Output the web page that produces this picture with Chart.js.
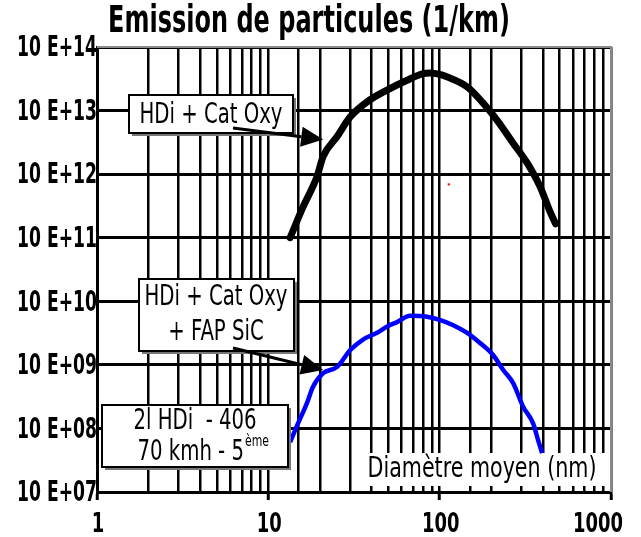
<!DOCTYPE html>
<html>
<head>
<meta charset="utf-8">
<script src="https://cdn.jsdelivr.net/npm/chart.js@4"></script>
<style>
  body { margin: 0; background: #fff; }
  #wrap { width: 641px; height: 537px; }
</style>
</head>
<body>
<div id="wrap"><canvas id="emission" width="641" height="537"></canvas></div>
<script>
// Diamètre moyen (nm) / particules par km
const diam_oxy = [13.4, 15.9, 19.2, 20.9, 25.2, 30, 37.7, 49.3, 64.5, 80, 88, 100, 110, 145, 179, 216, 268, 324, 386, 440, 475];
const part_oxy = [1.0e11, 3.0e11, 9.0e11, 1.9e12, 3.9e12, 7.9e12, 1.37e13, 2.1e13, 3.0e13, 3.8e13, 3.9e13, 3.7e13, 3.4e13, 2.35e13, 1.32e13, 7.1e12, 3.1e12, 1.5e12, 6.3e11, 2.6e11, 1.65e11];

const diam_fap = [13.4, 14.9, 16.8, 18.2, 20.9, 25.2, 30, 35.7, 43.1, 50, 56.4, 67.2, 84.4, 100, 120, 144, 172, 205, 235, 268, 307, 351, 375, 396];
const part_fap = [6.1e7, 1.2e8, 2.5e8, 4.5e8, 7.4e8, 9.3e8, 1.7e9, 2.5e9, 3.2e9, 4.1e9, 4.7e9, 5.9e9, 5.7e9, 5.1e9, 4.2e9, 3.2e9, 2.2e9, 1.43e9, 8.3e8, 5.2e8, 2.2e8, 1.2e8, 6.6e7, 4.1e7];

const stray_x = [113];
const stray_y = [6.9e11];

const x_labels = [1, 10, 100, 1000];
const y_exponents = [7, 8, 9, 10, 11, 12, 13, 14];

const NARROW = "'Liberation Sans Narrow', 'Arial Narrow', 'DejaVu Sans Condensed', 'DejaVu Sans', sans-serif";

function pairs(xs, ys) {
    return xs.map((x, i) => ({ x: x, y: ys[i] }));
}

function isDecade(v) {
    const l = Math.log10(v);
    return Math.abs(l - Math.round(l)) < 1e-6;
}

function yLabel(e) {
    return '10 E+' + (e < 10 ? '0' + e : e);
}

function setFont(ctx, size, bold) {
    ctx.font = (bold ? 'bold ' : '') + size + 'px ' + NARROW;
}

// largeur -> facteur de compression horizontale
function squeeze(ctx, s, size, bold, width) {
    setFont(ctx, size, bold);
    return Math.min(1, width / ctx.measureText(s).width);
}

function text(ctx, s, x, y, size, bold, k, align) {
    ctx.save();
    setFont(ctx, size, bold);
    ctx.textAlign = align || 'center';
    ctx.textBaseline = 'middle';
    ctx.fillStyle = '#000';
    ctx.translate(x, y);
    ctx.scale(k, 1);
    ctx.fillText(s, 0, 0);
    ctx.restore();
}

function box(ctx, x, y, w, h) {
    ctx.save();
    ctx.fillStyle = '#777';
    ctx.fillRect(x + 3, y + 3, w, h);
    ctx.fillStyle = '#fff';
    ctx.fillRect(x, y, w, h);
    ctx.strokeStyle = '#000';
    ctx.lineWidth = 2;
    ctx.strokeRect(x, y, w, h);
    ctx.restore();
}

function arrow(ctx, x1, y1, x2, y2) {
    const a = Math.atan2(y2 - y1, x2 - x1);
    const len = 22, half = 10;
    const bx = x2 - len * Math.cos(a), by = y2 - len * Math.sin(a);
    ctx.save();
    ctx.strokeStyle = '#000';
    ctx.fillStyle = '#000';
    ctx.lineWidth = 3;
    ctx.beginPath();
    ctx.moveTo(x1, y1);
    ctx.lineTo(bx, by);
    ctx.stroke();
    ctx.beginPath();
    ctx.moveTo(x2, y2);
    ctx.lineTo(bx + half * Math.sin(a), by - half * Math.cos(a));
    ctx.lineTo(bx - half * Math.sin(a), by + half * Math.cos(a));
    ctx.closePath();
    ctx.fill();
    ctx.restore();
}

// cadre, titre, graduations et étiquettes
const decor = {
    id: 'decor',
    beforeDatasetsDraw(chart) {
        const ctx = chart.ctx, a = chart.chartArea;
        ctx.save();
        ctx.strokeStyle = '#8a8a8a';
        ctx.lineWidth = 2;
        ctx.beginPath();
        ctx.moveTo(a.left, a.top);
        ctx.lineTo(a.right, a.top);
        ctx.lineTo(a.right, a.bottom);
        ctx.stroke();
        // zone blanche du titre de l'axe X
        ctx.fillStyle = '#fff';
        ctx.fillRect(360, 453, 249, 33);
        ctx.restore();
    },
    afterDatasetsDraw(chart) {
        const ctx = chart.ctx;
        const sx = chart.scales.x, sy = chart.scales.y;

        const ky = squeeze(ctx, yLabel(14), 28, true, 80);
        y_exponents.forEach(e => {
            text(ctx, yLabel(e), 97, sy.getPixelForValue(Math.pow(10, e)) + 2, 28, true, ky, 'right');
        });
        const kx = squeeze(ctx, '1000', 27, true, 50);
        x_labels.forEach((v, i) => {
            const px = sx.getPixelForValue(v);
            if (i === x_labels.length - 1) {
                text(ctx, String(v), px + 12, 525, 27, true, kx, 'right');
            } else {
                text(ctx, String(v), px + 1, 525, 27, true, kx, 'center');
            }
        });

        const title = 'Emission de particules (1/km)';
        text(ctx, title, 309, 22, 37, true, squeeze(ctx, title, 37, true, 402));
        const axisTitle = 'Diamètre moyen (nm)';
        text(ctx, axisTitle, 482, 470, 28, false, squeeze(ctx, axisTitle, 28, false, 229));

        const kb = squeeze(ctx, 'HDi + Cat Oxy', 29, false, 143);
        box(ctx, 129, 95, 164, 38);
        text(ctx, 'HDi + Cat Oxy', 211, 115, 29, false, kb);
        arrow(ctx, 233, 128, sx.getPixelForValue(20.9), sy.getPixelForValue(3.5e12));

        box(ctx, 139, 279, 155, 72);
        text(ctx, 'HDi + Cat Oxy', 216, 297, 29, false, kb);
        text(ctx, '+ FAP SiC', 216, 332, 29, false, kb);
        arrow(ctx, 233, 348, sx.getPixelForValue(20.9), sy.getPixelForValue(8.3e8));

        box(ctx, 102, 405, 186, 62);
        text(ctx, '2l HDi  - 406', 195, 421, 29, false, kb);
        text(ctx, '70 kmh - 5', 244, 452, 29, false, kb, 'right');
        text(ctx, 'ème', 245, 442, 16, false, kb, 'left');
    }
};

new Chart(document.getElementById('emission').getContext('2d'), {
    type: 'line',
    data: {
        datasets: [{
            label: 'HDi + Cat Oxy',
            data: pairs(diam_oxy, part_oxy),
            borderColor: '#000',
            borderWidth: 7,
            pointRadius: 0,
            cubicInterpolationMode: 'monotone',
            borderCapStyle: 'round'
        }, {
            label: 'HDi + Cat Oxy + FAP SiC',
            data: pairs(diam_fap, part_fap),
            borderColor: '#0000ff',
            borderWidth: 4.5,
            pointRadius: 0,
            cubicInterpolationMode: 'monotone'
        }, {
            label: 'point',
            data: pairs(stray_x, stray_y),
            showLine: false,
            pointRadius: 1.5,
            pointStyle: 'rect',
            backgroundColor: '#ff0000',
            borderColor: '#ff0000',
            borderWidth: 0
        }]
    },
    options: {
        responsive: false,
        animation: false,
        layout: { padding: { top: 47, right: 30, left: 0, bottom: 0 } },
        plugins: {
            legend: { display: false },
            title: { display: false },
            tooltip: { enabled: false }
        },
        scales: {
            x: {
                type: 'logarithmic',
                min: x_labels[0],
                max: x_labels[x_labels.length - 1],
                afterFit: (s) => { s.height = 45; },
                border: { color: '#000', width: 3 },
                grid: {
                    color: '#000',
                    lineWidth: 2.5,
                    tickLength: 8,
                    tickColor: (c) => (c.tick && isDecade(c.tick.value)) ? '#000' : 'rgba(0,0,0,0)',
                    tickWidth: 3
                },
                ticks: { display: false, autoSkip: false }
            },
            y: {
                type: 'logarithmic',
                min: Math.pow(10, y_exponents[0]),
                max: Math.pow(10, y_exponents[y_exponents.length - 1]),
                afterFit: (s) => { s.width = 97; },
                afterBuildTicks: (s) => { s.ticks = s.ticks.filter(t => isDecade(t.value)); },
                border: { color: '#000', width: 3 },
                grid: { color: '#000', lineWidth: 3, drawTicks: false },
                ticks: { display: false }
            }
        }
    },
    plugins: [decor]
});
</script>
</body>
</html>
